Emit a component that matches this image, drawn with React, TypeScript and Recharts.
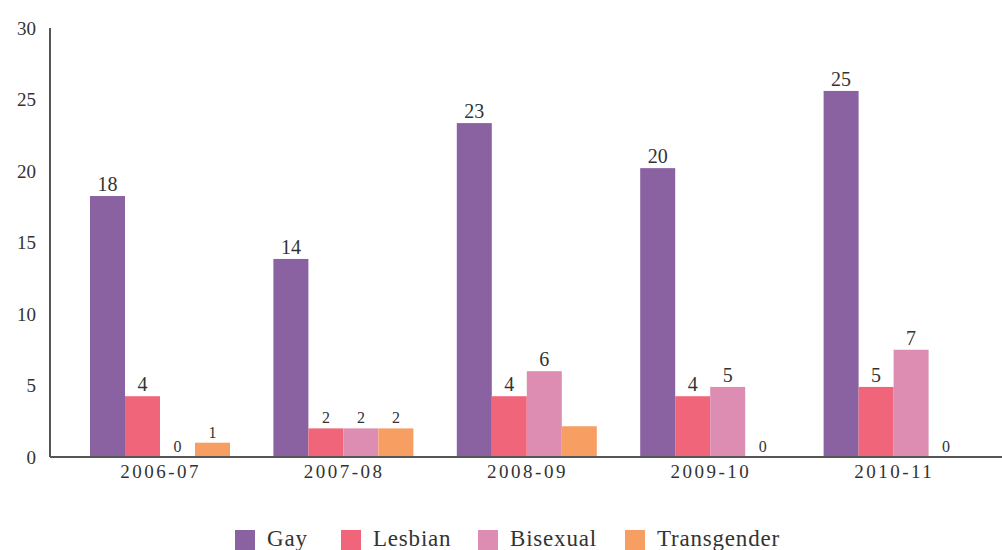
import React from "react";
import { BarChart, Bar, XAxis, YAxis, Legend } from "recharts";

const categories = ["2006-07", "2007-08", "2008-09", "2009-10", "2010-11"];
const gay = [18.25, 13.85, 23.35, 20.2, 25.6];
const lesbian = [4.25, 2.0, 4.25, 4.25, 4.9];
const bisexual = [0, 2.0, 6.0, 4.9, 7.5];
const transgender = [1.0, 2.0, 2.15, 0, 0];
const gayLabels = ["18", "14", "23", "20", "25"];
const lesbianLabels = ["4", "2", "4", "4", "5"];
const bisexualLabels = ["0", "2", "6", "5", "7"];
const transgenderLabels = ["1", "2", "", "0", "0"];
const yTicks = [0, 5, 10, 15, 20, 25, 30];

const seriesNames = ["Gay", "Lesbian", "Bisexual", "Transgender"];
const keys = ["gay", "lesbian", "bisexual", "transgender"];
const colors = ["#8b62a1", "#f06579", "#dc8db1", "#f79e63"];

const data = categories.map((c, i) => ({
  cat: c,
  gay: gay[i],
  lesbian: lesbian[i],
  bisexual: bisexual[i],
  transgender: transgender[i],
  gayLabel: gayLabels[i],
  lesbianLabel: lesbianLabels[i],
  bisexualLabel: bisexualLabels[i],
  transgenderLabel: transgenderLabels[i],
}));

const FONT = "'Liberation Serif', serif";
const TEXT = "#333333";

const makeShape = (key: string, color: string) => (props: any) => {
  const { x, y, width, height, payload } = props;
  const t = payload ? payload[key + "Label"] : "";
  const big = t && (t.length > 1 || ["4", "5", "6", "7"].includes(t));
  const h = Math.max(0, height || 0);
  return (
    <g>
      {h > 0 && <rect x={x} y={y} width={width} height={h} fill={color} />}
      {t ? (
        <text
          x={x + width / 2}
          y={(h > 0 ? y : y + (height || 0)) - 5}
          textAnchor="middle"
          fill={TEXT}
          fontFamily={FONT}
          fontSize={big ? 20 : 16}
        >
          {t}
        </text>
      ) : null}
    </g>
  );
};

const CustomLegend = () => {
  const widths = [106, 137, 147, 150];
  let x = 0;
  return (
    <div style={{ position: "relative", height: 30 }}>
      <svg width={1002} height={30}>
        <g transform="translate(235,0)">
          {seriesNames.map((n, i) => {
            const gx = x;
            x += widths[i];
            return (
              <g key={n} transform={`translate(${gx},0)`}>
                <rect x={0} y={10} width={20} height={20} fill={colors[i]} />
                <text x={32} y={26} fill={TEXT} fontFamily={FONT} fontSize={23} letterSpacing={0.8}>
                  {n}
                </text>
              </g>
            );
          })}
        </g>
      </svg>
    </div>
  );
};

export default function App() {
  return (
    <div style={{ position: "absolute", left: 0, top: 0, background: "#fff" }}>
      <BarChart
        width={1002}
        height={550}
        data={data}
        margin={{ top: 28, right: 0, left: 0, bottom: 0 }}
        barGap={0}
        barCategoryGap={21}
      >
        <XAxis
          dataKey="cat"
          padding={{ left: 19, right: 16 }}
          tickLine={false}
          axisLine={{ stroke: "#555", strokeWidth: 2 }}
          tick={{ fill: TEXT, fontFamily: FONT, fontSize: 19, letterSpacing: 2.5 }}
          tickMargin={2}
          height={63}
        />
        <YAxis
          domain={[0, 30]}
          ticks={yTicks}
          width={50}
          tickLine={false}
          tickMargin={8}
          axisLine={{ stroke: "#555", strokeWidth: 2 }}
          tick={{ fill: TEXT, fontFamily: FONT, fontSize: 19 }}
        />
        <Legend verticalAlign="bottom" height={30} content={<CustomLegend />} />
        {keys.map((k, i) => (
          <Bar key={k} dataKey={k} fill={colors[i]} isAnimationActive={false} shape={makeShape(k, colors[i])} />
        ))}
      </BarChart>
    </div>
  );
}
